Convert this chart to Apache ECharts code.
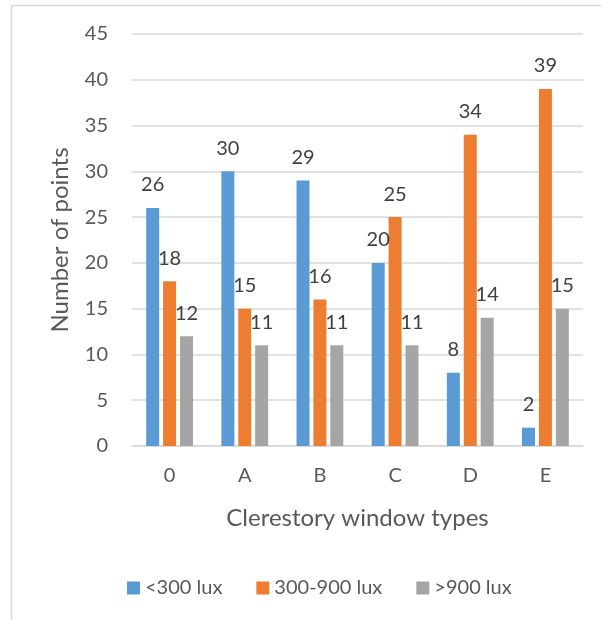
<!DOCTYPE html>
<html>
<head>
<meta charset="utf-8">
<script src="https://cdn.jsdelivr.net/npm/echarts@6/dist/echarts.min.js"></script>
<style>
  html, body { margin: 0; padding: 0; background: #fff; }
  #chart { width: 610px; height: 620px; }
</style>
</head>
<body>
<div id="chart"></div>
<script>
// Clerestory window types and the number of measurement points per illuminance band
const categories = ['0', 'A', 'B', 'C', 'D', 'E'];
const seriesNames = ['<300 lux', '300-900 lux', '>900 lux'];
const below300 = [26, 30, 29, 20, 8, 2];
const between300And900 = [18, 15, 16, 25, 34, 39];
const above900 = [12, 11, 11, 11, 14, 15];
const colors = ['#5B9BD5', '#ED7D31', '#A5A5A5'];

const FONT = 'Lato';
const chart = echarts.init(document.getElementById('chart'));

function barSeries(name, data, color) {
  return {
    name: name,
    type: 'bar',
    data: data,
    barWidth: 13,
    barGap: '30%',
    itemStyle: { color: color },
    label: {
      show: true,
      position: 'top',
      distance: 13,
      color: '#404040',
      fontFamily: FONT,
      fontSize: 20
    }
  };
}

chart.setOption({
  animation: false,
  textStyle: { fontFamily: FONT },
  grid: { left: 132, right: 27, top: 34, bottom: 174 },
  legend: {
    bottom: 17,
    left: 122,
    itemWidth: 13,
    itemHeight: 13,
    itemGap: 34,
    icon: 'rect',
    textStyle: { color: '#595959', fontFamily: FONT, fontSize: 20 },
    data: seriesNames
  },
  xAxis: {
    type: 'category',
    data: categories,
    name: 'Clerestory window types',
    nameLocation: 'middle',
    nameGap: 60,
    nameTextStyle: { color: '#595959', fontFamily: FONT, fontSize: 24 },
    axisLine: { lineStyle: { color: '#D9D9D9', width: 1.5 } },
    axisTick: { show: false },
    axisLabel: { color: '#595959', fontFamily: FONT, fontSize: 20, margin: 20 }
  },
  yAxis: {
    type: 'value',
    min: 0,
    max: 45,
    interval: 5,
    name: 'Number of points',
    nameLocation: 'middle',
    nameGap: 60,
    nameRotate: 90,
    nameTextStyle: { color: '#595959', fontFamily: FONT, fontSize: 24 },
    axisLine: { show: false },
    axisTick: { show: false },
    axisLabel: { color: '#595959', fontFamily: FONT, fontSize: 20, margin: 24 },
    splitLine: { lineStyle: { color: '#D9D9D9', width: 1.5 } }
  },
  series: [
    barSeries(seriesNames[0], below300, colors[0]),
    barSeries(seriesNames[1], between300And900, colors[1]),
    barSeries(seriesNames[2], above900, colors[2])
  ],
  graphic: [
    {
      type: 'polyline',
      shape: { points: [[11.5, 620], [11.5, 5.5], [601, 5.5]] },
      style: { stroke: '#D9D9D9', lineWidth: 1.5, fill: null },
      silent: true
    }
  ]
});
</script>
</body>
</html>
